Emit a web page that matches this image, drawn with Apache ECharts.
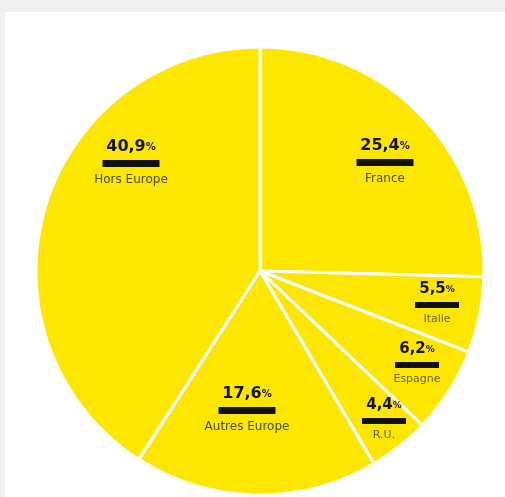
<!DOCTYPE html>
<html>
<head>
<meta charset="utf-8">
<script src="https://cdn.jsdelivr.net/npm/echarts@6/dist/echarts.min.js"></script>
<style>
  html, body { margin: 0; padding: 0; background: #f0eff0; }
  #panel { position: absolute; left: 5px; top: 12px; right: 0; bottom: 0; background: #ffffff; }
  #chart { position: absolute; left: 0; top: 0; width: 505px; height: 497px; }
</style>
</head>
<body>
<div id="panel"></div>
<div id="chart"></div>
<script>
// Share of visitors by origin (percent), clockwise from 12 o'clock
const categories = ['France', 'Italie', 'Espagne', 'R.U.', 'Autres Europe', 'Hors Europe'];
const shares = [25.4, 5.5, 6.2, 4.4, 17.6, 40.9];
const shareLabels = ['25,4', '5,5', '6,2', '4,4', '17,6', '40,9'];

// Where each slice's label block sits (centre of the block, px)
const labelSpots = [[385, 162], [437, 304], [417, 364], [384, 420], [247, 410], [131, 163]];
// Small slices get a narrower bar and smaller type
const compact = [false, true, true, true, false, false];

const chart = echarts.init(document.getElementById('chart'), null, { renderer: 'canvas' });

const data = categories.map((name, i) => ({
  name: name,
  value: shares[i],
  label: {
    formatter: compact[i]
      ? '{vs|' + shareLabels[i] + '}{ps|%}\n{bs|}\n{ns|' + name + '}'
      : '{v|' + shareLabels[i] + '}{p|%}\n{b|}\n{n|' + name + '}'
  }
}));

chart.setOption({
  animation: false,
  series: [{
    type: 'pie',
    center: [260, 271],
    radius: 224,
    startAngle: 90,
    clockwise: true,
    silent: true,
    data: data,
    itemStyle: { color: '#fde700', borderColor: '#ffffff', borderWidth: 3 },
    labelLine: { show: false },
    label: {
      show: true,
      position: 'inside',
      align: 'center',
      verticalAlign: 'middle',
      rich: {
        v:  { fontFamily: 'DejaVu Sans', fontWeight: 'bold', fontSize: 16, color: '#151515', lineHeight: 19 },
        p:  { fontFamily: 'DejaVu Sans', fontWeight: 'bold', fontSize: 10, color: '#151515', lineHeight: 19 },
        b:  { backgroundColor: '#111111', width: 57, height: 7, lineHeight: 14 },
        n:  { fontFamily: 'DejaVu Sans', fontSize: 12, color: '#4e4a10', lineHeight: 18 },
        vs: { fontFamily: 'DejaVu Sans', fontWeight: 'bold', fontSize: 15, color: '#151515', lineHeight: 18 },
        ps: { fontFamily: 'DejaVu Sans', fontWeight: 'bold', fontSize: 9, color: '#151515', lineHeight: 18 },
        bs: { backgroundColor: '#111111', width: 44, height: 6, lineHeight: 13 },
        ns: { fontFamily: 'DejaVu Sans', fontSize: 11, color: '#6a6420', lineHeight: 16 }
      }
    },
    labelLayout: function (params) {
      const spot = labelSpots[params.dataIndex];
      return { x: spot[0], y: spot[1], align: 'center', verticalAlign: 'middle' };
    }
  }]
});
</script>
</body>
</html>
